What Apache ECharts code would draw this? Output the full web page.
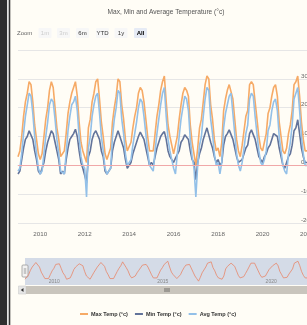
<!DOCTYPE html>
<html>
<head>
<meta charset="utf-8">
<script src="https://cdn.jsdelivr.net/npm/echarts@6/dist/echarts.min.js"></script>
<style>
  html, body { margin: 0; padding: 0; background: #fffdf6; }
  #chart { width: 307px; height: 325px; }
</style>
</head>
<body>
<div id="chart"></div>
<script>
// monthly values, Jan 2009 .. Jan 2022
const years = [2009, 2010, 2011, 2012, 2013, 2014, 2015, 2016, 2017, 2018, 2019, 2020, 2021];
const lastMonth = '2022-01';

const maxTemp = [
  3, 5, 10, 17, 22, 25, 29, 28, 22, 14, 9, 4,
  2, 4, 10, 16, 20, 26, 29, 27, 20, 13, 9, 3,
  4, 5, 11, 18, 22, 25, 27, 29, 24, 15, 8, 5,
  3, 1, 13, 16, 22, 25, 29, 30, 23, 15, 10, 4,
  2, 4, 6, 15, 20, 24, 30, 29, 21, 16, 9, 5,
  5, 8, 13, 17, 20, 25, 27, 26, 22, 16, 10, 5,
  5, 5, 11, 17, 21, 26, 29, 31, 22, 14, 10, 7,
  4, 7, 10, 16, 21, 25, 27, 26, 24, 14, 8, 4,
  0, 6, 13, 16, 22, 28, 31, 30, 21, 16, 9, 5,
  6, 3, 8, 19, 23, 26, 28, 28, 23, 16, 9, 5,
  3, 7, 12, 17, 19, 28, 29, 28, 22, 16, 10, 6,
  5, 8, 11, 18, 20, 24, 27, 28, 24, 15, 10, 5,
  4, 6, 11, 14, 19, 28, 29, 31, 24, 15, 9, 5,
  5
];
const minTemp = [
  -3, -2, 2, 6, 9, 10, 12, 12, 9, 5, 2, -2,
  -3, -3, 1, 5, 8, 10, 12, 11, 8, 5, 2, -3,
  -2, -3, 2, 6, 9, 10, 11, 12.5, 10, 5, 1, -1,
  -1, -6, 3, 5, 9, 11, 12, 12, 9, 5, 3, -2,
  -3, -2, -1, 5, 8, 10, 12, 11.5, 8, 6, 2, -1,
  0, 1, 4, 6, 8, 10, 11.5, 11, 9, 6, 3, 0,
  1, 0, 3, 6, 8, 10, 11, 11.7, 9, 5, 3, 2,
  1, 2.5, 3, 5, 8, 9, 10.6, 10, 9, 5, 2, 1,
  -5, 1, 4, 6, 9, 11, 13, 12.5, 8, 6, 3, 1,
  2, 0, 1, 7, 10, 11, 12.3, 12, 9, 6, 3, 1,
  1, 2, 4, 6, 7, 11, 12.3, 12, 9, 6, 3, 2,
  1, 3, 4, 6, 7, 9, 11, 11.3, 10, 6, 3, 0,
  -1, -1.6, 3, 4, 7, 12, 13, 15.8, 11, 6, 3, 1,
  1
];
const avgTemp = [
  -2, -1, 4, 11, 17, 21, 25, 24, 18, 10, 4, -1,
  -3, -2, 4, 10, 15, 21, 23, 22, 16, 9, 4, -2,
  -2, -3, 4, 12, 17, 21, 22, 24, 19, 10, 3, 0,
  -1, -11, 6, 10, 17, 21, 24, 25, 18, 10, 5, -1,
  -3, -2, -1, 10, 16, 20, 26, 25, 16, 11, 4, 0,
  0, 2, 7, 11, 15, 20, 23, 22, 17, 11, 5, 0,
  0, -2, 5, 11, 16, 21, 25, 27, 17, 9, 5, 2,
  -1, -3, 4, 10, 16, 20, 24, 23, 19, 9, 3, -1,
  -11, 0, 7, 10, 17, 23, 27, 26, 16, 11, 4, 0,
  1, -3, 1, 13, 18, 21, 24, 25, 18, 11, 4, 0,
  -2, 1, 6, 11, 14, 23, 25, 24, 17, 11, 5, 1,
  0, 2, 5, 12, 14, 19, 22, 23, 19, 10, 5, 0,
  -2, -3, 4, 8, 14, 23, 25, 27, 19, 10, 4, 0,
  0
];

const xTickYears = [2010, 2012, 2014, 2016, 2018, 2020, 2022];
const navTickYears = [2010, 2015, 2020];
const rangeButtons = ['1m', '3m', '6m', 'YTD', '1y', 'All'];

const categories = [];
years.forEach(y => {
  for (let m = 1; m <= 12; m++) categories.push(y + '-' + String(m).padStart(2, '0'));
});
categories.push(lastMonth);

const font = '"Liberation Sans", Arial, sans-serif';
const isTick = (v, list) => v.endsWith('-01') && list.indexOf(+v.slice(0, 4)) >= 0;

// range selector buttons
const btnCenters = [45, 63.5, 82.5, 102.5, 121, 140.5];
const buttons = [];
rangeButtons.forEach((b, i) => {
  const disabled = i < 2, selected = b === 'All';
  buttons.push({
    type: 'rect', shape: { x: btnCenters[i] - 6.5, y: 28, width: 13, height: 10, r: 1 },
    style: { fill: selected ? '#e6ebf5' : '#f7f7f7' }
  });
  buttons.push({
    type: 'text', x: btnCenters[i], y: 33,
    style: { text: b, font: (selected ? 'bold ' : '') + '6px ' + font,
      fill: disabled ? '#cccccc' : (selected ? '#000' : '#333'),
      textAlign: 'center', textVerticalAlign: 'middle' }
  });
});

const chart = echarts.init(document.getElementById('chart'));
chart.setOption({
  backgroundColor: '#fffdf6',
  animation: false,
  textStyle: { fontFamily: font },
  legend: {
    left: 75, top: 306, itemWidth: 8, itemHeight: 2, itemGap: 7, icon: 'rect',
    textStyle: { fontSize: 5.5, fontWeight: 'bold', color: '#333', padding: [0, 0, 0, -2] },
    data: ['Max Temp (°c)', 'Min Temp (°c)', 'Avg Temp (°c)']
  },
  grid: [
    { left: 18, right: 0, top: 50, height: 173, outerBoundsMode: 'none' },
    { left: 25, right: 0, top: 258, height: 27, show: true, outerBoundsMode: 'none',
      backgroundColor: 'rgba(102,133,194,0.28)', borderWidth: 0 }
  ],
  xAxis: [{
    type: 'category', data: categories, boundaryGap: false,
    axisLine: { lineStyle: { color: '#ccd6eb' } },
    axisTick: { show: false },
    axisLabel: {
      interval: (i, v) => isTick(v, xTickYears),
      formatter: v => v.slice(0, 4),
      fontSize: 6.2, color: '#666', margin: 8
    },
    splitLine: { show: false }
  }, {
    type: 'category', data: categories, boundaryGap: false, gridIndex: 1,
    axisLine: { show: false }, axisTick: { show: false },
    axisLabel: {
      inside: true, interval: (i, v) => isTick(v, navTickYears),
      formatter: v => v.slice(0, 4), align: 'left', padding: [0, 0, 0, 2],
      fontSize: 5, color: '#888', margin: 1
    },
    splitLine: { show: false }
  }],
  yAxis: [{
    type: 'value', position: 'right', offset: -7, min: -20, max: 40, interval: 10,
    axisLine: { show: false }, axisTick: { show: false },
    axisLabel: {
      margin: 1, fontSize: 6.2, color: '#666', verticalAlign: 'bottom',
      formatter: v => (v === 40 ? '' : v)
    },
    splitLine: { lineStyle: { color: '#e6e6e6', width: 1 } }
  }, {
    type: 'value', gridIndex: 1, min: -6, max: 36, show: false
  }],
  series: [{
    name: 'Max Temp (°c)', type: 'line', data: maxTemp, showSymbol: false,
    lineStyle: { width: 1.6, color: '#f6aa66' }, itemStyle: { color: '#f6aa66' },
    markLine: {
      silent: true, symbol: 'none', label: { show: false },
      lineStyle: { color: '#f0a8a8', width: 1, type: 'solid' },
      data: [{ yAxis: 0 }]
    }
  }, {
    name: 'Min Temp (°c)', type: 'line', data: minTemp, showSymbol: false,
    lineStyle: { width: 1.6, color: '#62739a' }, itemStyle: { color: '#62739a' }
  }, {
    name: 'Avg Temp (°c)', type: 'line', data: avgTemp, showSymbol: false,
    lineStyle: { width: 1.6, color: '#93c0e8' }, itemStyle: { color: '#93c0e8' }
  }, {
    name: 'navigator', type: 'line', data: maxTemp, xAxisIndex: 1, yAxisIndex: 1,
    showSymbol: false, silent: true,
    lineStyle: { width: 0.8, color: '#e8866a' }
  }],
  graphic: [
    // left frame
    { type: 'rect', shape: { x: 0, y: 0, width: 7.3, height: 325 }, style: { fill: '#2e2e2e' } },
    { type: 'rect', shape: { x: 7.3, y: 0, width: 1.4, height: 325 }, style: { fill: '#f4f4f4' } },
    { type: 'rect', shape: { x: 8.7, y: 0, width: 1.6, height: 325 }, style: { fill: '#333' } },
    // title
    { type: 'text', x: 166, y: 12,
      style: { text: 'Max, Min and Average Temperature (°c)', font: '6.6px ' + font,
        fill: '#555', textAlign: 'center', textVerticalAlign: 'middle' } },
    { type: 'text', x: 17, y: 33,
      style: { text: 'Zoom', font: '6px ' + font, fill: '#666', textVerticalAlign: 'middle' } },
    ...buttons,
    // navigator handle
    { type: 'rect', shape: { x: 22, y: 265, width: 6, height: 12, r: 1 },
      style: { fill: '#f2f2f2', stroke: '#999', lineWidth: 0.8 } },
    { type: 'line', shape: { x1: 24.3, y1: 268, x2: 24.3, y2: 274 }, style: { stroke: '#999', lineWidth: 0.6 } },
    { type: 'line', shape: { x1: 25.7, y1: 268, x2: 25.7, y2: 274 }, style: { stroke: '#999', lineWidth: 0.6 } },
    // scrollbar
    { type: 'rect', shape: { x: 18.5, y: 286, width: 7.5, height: 8 },
      style: { fill: '#e6e6e6', stroke: '#ccc', lineWidth: 0.6 } },
    { type: 'polygon', shape: { points: [[23.5, 288], [23.5, 292], [20.8, 290]] }, style: { fill: '#333' } },
    { type: 'rect', shape: { x: 26, y: 286, width: 300, height: 8 }, style: { fill: '#c9c5bd' } },
    { type: 'line', shape: { x1: 165, y1: 288, x2: 165, y2: 292 }, style: { stroke: '#333', lineWidth: 0.6 } },
    { type: 'line', shape: { x1: 167, y1: 288, x2: 167, y2: 292 }, style: { stroke: '#333', lineWidth: 0.6 } },
    { type: 'line', shape: { x1: 169, y1: 288, x2: 169, y2: 292 }, style: { stroke: '#333', lineWidth: 0.6 } }
  ]
});
</script>
</body>
</html>
